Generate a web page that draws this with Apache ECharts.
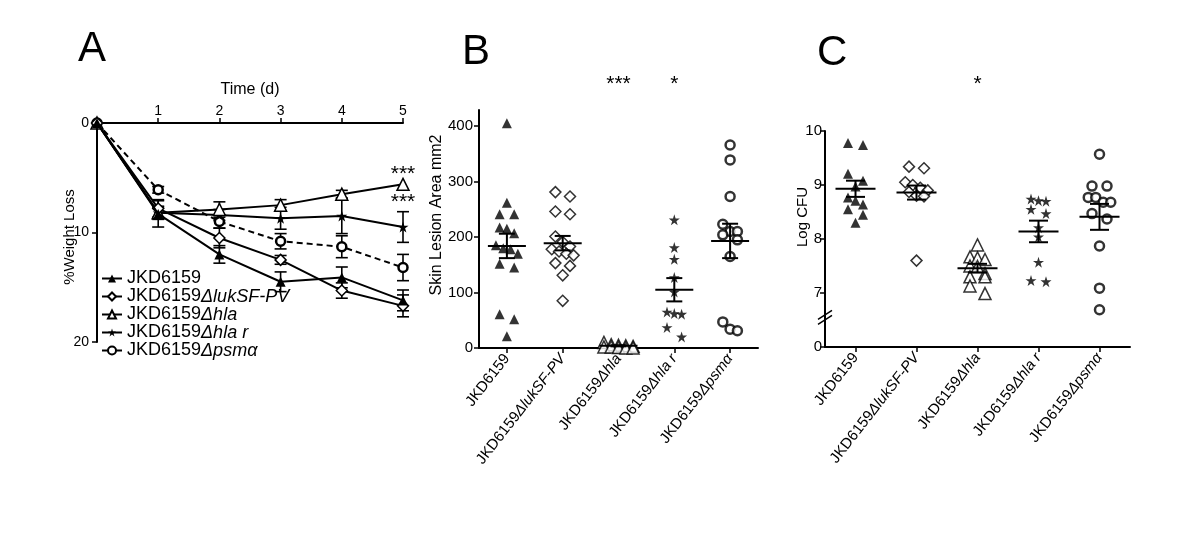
<!DOCTYPE html>
<html><head><meta charset="utf-8">
<script src="https://cdn.jsdelivr.net/npm/echarts@6/dist/echarts.min.js"></script>
<style>html,body{margin:0;padding:0;background:#fff}#c{width:1200px;height:548px}</style>
</head><body><div id="c"></div>
<script>
// ---------------- DATA ----------------
const strainBase = ['JKD6159', 'JKD6159', 'JKD6159', 'JKD6159', 'JKD6159'];
const strainMut  = ['', 'ΔlukSF-PV', 'Δhla', 'Δhla r', 'Δpsmα'];
const strains = strainBase.map((b, i) => b + strainMut[i]);

// Panel A: % weight loss over time (mean, SEM)
const days = [0, 1, 2, 3, 4, 5];
const wlJKD  = [0, 8.3, 12.0, 14.5, 14.1, 16.2];
const wlLuk  = [0, 7.8, 10.5, 12.5, 15.3, 16.7];
const wlHla  = [0, 8.2, 7.9, 7.5, 6.5, 5.6];
const wlHlaR = [0, 8.2, 8.4, 8.7, 8.5, 9.5];
const wlPsm  = [0, 6.1, 9.0, 10.8, 11.3, 13.2];
const seJKD  = [0, 1.2, 0.8, 0.9, 0.95, 0.95];
const seLuk  = [0, 0.8, 0.9, 0.4, 0.7, 1.0];
const seHla  = [0, 0.6, 0.7, 0.5, 0.35, 0];
const seHlaR = [0, 0.5, 0.5, 1.0, 1.6, 1.4];
const sePsm  = [0, 0.3, 0.6, 0.7, 1.0, 1.2];

// Panel B: skin lesion area (mm2)
const lesJKD  = [405, 262, 241, 241, 217, 215, 207, 185, 180, 178, 170, 152, 145, 61, 52, 21];
const lesLuk  = [281, 273, 246, 241, 201, 191, 183, 178, 174, 170, 167, 153, 148, 131, 85];
const lesHla  = [10, 6, 5, 4, 3, 2, 2, 1, 0, 0];
const lesHlaR = [231, 181, 160, 127, 101, 65, 62, 61, 37, 20];
const lesPsm  = [366, 339, 273, 223, 210, 210, 204, 195, 165, 47, 34, 31];
const lesMean = [184, 189, 4, 105, 193];
const lesSem  = [22, 13, 1, 21, 31];
const lesSig  = ['', '', '***', '*', ''];

// Panel C: log CFU
const cfuJKD  = [9.78, 9.74, 9.21, 9.08, 8.97, 8.77, 8.71, 8.64, 8.55, 8.45, 8.30];
const cfuLuk  = [9.34, 9.31, 9.05, 9.00, 8.95, 8.90, 8.87, 8.80, 8.79, 7.60];
const cfuHla  = [7.89, 7.67, 7.65, 7.62, 7.50, 7.49, 7.36, 7.30, 7.30, 7.13, 6.99];
const cfuHlaR = [8.74, 8.71, 8.70, 8.55, 8.47, 8.21, 8.04, 7.57, 7.23, 7.21];
const cfuPsm  = [9.57, 8.98, 8.98, 8.77, 8.77, 8.68, 8.68, 8.47, 8.37, 7.87, 7.09, 6.69];
const cfuMean = [8.93, 8.86, 7.46, 8.14, 8.41];
const cfuSem  = [0.15, 0.13, 0.08, 0.20, 0.24];
const cfuSig  = ['', '', '*', '', ''];

const yTicksA = [0, 10, 20];
const yTicksB = [0, 100, 200, 300, 400];
const yTicksC = [6, 7, 8, 9, 10];   // 6 is shown as "0" (broken axis)

// ---------------- LAYOUT / STYLE ----------------
const FF = 'Liberation Sans, Arial, sans-serif';
const BLK = '#000';
const gA = {left: 97, top: 123, width: 306, height: 219};
const gB = {left: 479, top: 110, width: 279, height: 238};
const gC = {left: 825, top: 131, width: 305, height: 216};
const bMax = 429;
const cMin = 6, cMax = 10;
const STAR = 'path://M50,0 L61.2,34.5 L97.6,34.5 L68.2,55.9 L79.4,90.5 L50,69.1 L20.6,90.5 L31.8,55.9 L2.4,34.5 L38.8,34.5 Z';

// scatter-dot-plot lane assignment: nearby values form a row, spread symmetrically
function swarm(vals, thr) {
  const s = vals.slice().sort((a, b) => b - a);
  const out = [];
  let i = 0;
  while (i < s.length) {
    let j = i + 1;
    while (j < s.length && s[i] - s[j] < thr) j++;
    const n = j - i;
    let lanes;
    if (n === 1) lanes = [0];
    else if (n === 2) lanes = [-1, 1];
    else if (n === 3) lanes = [-1, 0, 1];
    else if (n === 4) lanes = [-1.5, -0.5, 0.5, 1.5];
    else lanes = [-2, -1, 0, 1, 2];
    for (let k = 0; k < n; k++) out.push({v: s[i + k], lane: lanes[k % lanes.length]});
    i = j;
  }
  return out;
}

const laneB = 7.3 / (gB.width / 5), laneC = 7.5 / (gC.width / 5);
const thrB = 10 / (gB.height / bMax), thrC = 8.5 / (gC.height / (cMax - cMin));

function pts(vals, idx, thr, lane) {
  return swarm(vals, thr).map(p => [idx + p.lane * lane, p.v]);
}

const symStyles = [
  {symbol: 'triangle', symbolSize: 10, itemStyle: {color: BLK}},
  {symbol: 'diamond', symbolSize: 11, itemStyle: {color: '#fff', borderColor: BLK, borderWidth: 1.5}},
  {symbol: 'triangle', symbolSize: 12, itemStyle: {color: '#fff', borderColor: BLK, borderWidth: 1.5}},
  {symbol: STAR, symbolSize: 11, itemStyle: {color: BLK}},
  {symbol: 'circle', symbolSize: 9, itemStyle: {color: '#fff', borderColor: BLK, borderWidth: 2.5}}
];

function meanRender(halfW, capHalf) {
  return function (params, api) {
    const x = api.value(0), m = api.value(1), s = api.value(2);
    const pm = api.coord([x, m]), pt = api.coord([x, m + s]), pb = api.coord([x, m - s]);
    const st = {stroke: BLK, lineWidth: 2};
    return {type: 'group', children: [
      {type: 'line', shape: {x1: pm[0] - halfW, y1: pm[1], x2: pm[0] + halfW, y2: pm[1]}, style: st},
      {type: 'line', shape: {x1: pt[0], y1: pt[1], x2: pb[0], y2: pb[1]}, style: st},
      {type: 'line', shape: {x1: pt[0] - capHalf, y1: pt[1], x2: pt[0] + capHalf, y2: pt[1]}, style: st},
      {type: 'line', shape: {x1: pb[0] - capHalf, y1: pb[1], x2: pb[0] + capHalf, y2: pb[1]}, style: st}
    ]};
  };
}
function errRender(params, api) {
  const x = api.value(0), m = api.value(1), s = api.value(2);
  if (!s) return null;
  const pt = api.coord([x, m - s]), pb = api.coord([x, m + s]);
  const st = {stroke: BLK, lineWidth: 1.6};
  return {type: 'group', children: [
    {type: 'line', shape: {x1: pt[0], y1: pt[1], x2: pb[0], y2: pb[1]}, style: st},
    {type: 'line', shape: {x1: pt[0] - 6, y1: pt[1], x2: pt[0] + 6, y2: pt[1]}, style: st},
    {type: 'line', shape: {x1: pb[0] - 6, y1: pb[1], x2: pb[0] + 6, y2: pb[1]}, style: st}
  ]};
}

const catLabel = {
  rotate: 52, fontSize: 15, color: BLK, fontFamily: FF, margin: 8,
  formatter: (v, i) => strainBase[i] + (strainMut[i] ? '{i|' + strainMut[i] + '}' : ''),
  rich: {i: {fontStyle: 'italic', fontSize: 15, color: BLK, fontFamily: FF}}
};
const axLine = {show: true, onZero: false, lineStyle: {color: BLK, width: 2}};
const axTick = {show: true, length: 5, lineStyle: {color: BLK, width: 1.5}};

const wlSeries = [wlJKD, wlLuk, wlHla, wlHlaR, wlPsm];
const seSeries = [seJKD, seLuk, seHla, seHlaR, sePsm];
const lesSeries = [lesJKD, lesLuk, lesHla, lesHlaR, lesPsm];
const cfuSeries = [cfuJKD, cfuLuk, cfuHla, cfuHlaR, cfuPsm];

const series = [];
wlSeries.forEach((vals, k) => {
  series.push(Object.assign({
    type: 'line', name: strains[k], xAxisIndex: 0, yAxisIndex: 0,
    data: days.map((d, i) => [d, vals[i]]),
    lineStyle: {color: BLK, width: 2, type: k === 4 ? [6, 4] : 'solid'},
    z: 10 - k
  }, JSON.parse(JSON.stringify(symStyles[k])), k === 3 ? {symbol: STAR} : {}));
});
const errData = [];
wlSeries.forEach((vals, k) => days.forEach((d, i) => errData.push([d, vals[i], seSeries[k][i]])));
series.push({type: 'custom', xAxisIndex: 0, yAxisIndex: 0, renderItem: errRender, data: errData, z: 2, silent: true});

lesSeries.forEach((vals, k) => {
  series.push(Object.assign({type: 'scatter', xAxisIndex: 2, yAxisIndex: 1, data: pts(vals, k, thrB, laneB), z: 3},
    JSON.parse(JSON.stringify(symStyles[k])), k === 3 ? {symbol: STAR} : {}));
});
series.push({type: 'custom', xAxisIndex: 2, yAxisIndex: 1, renderItem: meanRender(19, 8),
  data: lesMean.map((m, i) => [i, m, lesSem[i]]), z: 4, silent: true});

cfuSeries.forEach((vals, k) => {
  series.push(Object.assign({type: 'scatter', xAxisIndex: 4, yAxisIndex: 2, data: pts(vals, k, thrC, laneC), z: 3},
    JSON.parse(JSON.stringify(symStyles[k])), k === 3 ? {symbol: STAR} : {}));
});
series.push({type: 'custom', xAxisIndex: 4, yAxisIndex: 2, renderItem: meanRender(20, 9.5),
  data: cfuMean.map((m, i) => [i, m, cfuSem[i]]), z: 4, silent: true});

const option = {
  animation: false,
  backgroundColor: '#fff',
  textStyle: {fontFamily: FF, color: BLK},
  grid: [gA, gB, gC],
  legend: {
    orient: 'vertical', left: 101, top: 269.5, padding: 0, itemWidth: 20, itemHeight: 10, itemGap: 0,
    textStyle: {fontSize: 18, color: BLK, fontFamily: FF, lineHeight: 16.8,
      rich: {i: {fontStyle: 'italic', fontSize: 18, color: BLK, fontFamily: FF, lineHeight: 16.8}}},
    formatter: name => name.slice(0, 7) + (name.length > 7 ? '{i|' + name.slice(7) + '}' : ''),
    data: strains.map(n => ({name: n, lineStyle: {type: 'solid', width: 2}}))
  },
  xAxis: [
    {gridIndex: 0, type: 'value', position: 'top', min: 0, max: 5, interval: 1,
      name: 'Time (d)', nameLocation: 'middle', nameGap: 25, nameMoveOverlap: false,
      nameTextStyle: {fontSize: 16, color: BLK, fontFamily: FF},
      axisLine: axLine, axisTick: axTick, splitLine: {show: false},
      axisLabel: {fontSize: 14, color: BLK, fontFamily: FF, margin: 5, formatter: v => v === 0 ? '' : v}},
    {gridIndex: 1, type: 'category', data: strains, axisLine: axLine,
      axisTick: Object.assign({alignWithLabel: true}, axTick), axisLabel: catLabel},
    {gridIndex: 1, type: 'value', min: -0.5, max: 4.5, show: false},
    {gridIndex: 2, type: 'category', data: strains, axisLine: axLine,
      axisTick: Object.assign({alignWithLabel: true}, axTick), axisLabel: catLabel},
    {gridIndex: 2, type: 'value', min: -0.5, max: 4.5, show: false}
  ],
  yAxis: [
    {gridIndex: 0, type: 'value', inverse: true, min: 0, max: 20, interval: 10,
      name: '%Weight Loss', nameLocation: 'middle', nameGap: 20, nameMoveOverlap: false,
      nameTextStyle: {fontSize: 15, color: BLK, fontFamily: FF, padding: [0, 9, 0, 0]},
      axisLine: axLine, axisTick: Object.assign({customValues: yTicksA}, axTick), splitLine: {show: false},
      axisLabel: {customValues: yTicksA, fontSize: 14, color: BLK, fontFamily: FF, margin: 8}},
    {gridIndex: 1, type: 'value', min: 0, max: bMax,
      name: 'Skin Lesion Area mm2', nameLocation: 'middle', nameGap: 34, nameMoveOverlap: false,
      nameTextStyle: {fontSize: 16, color: BLK, fontFamily: FF, padding: [0, 0, 0, 28]},
      axisLine: axLine, axisTick: Object.assign({customValues: yTicksB}, axTick), splitLine: {show: false},
      axisLabel: {customValues: yTicksB, fontSize: 15, color: BLK, fontFamily: FF, margin: 6}},
    {gridIndex: 2, type: 'value', min: cMin, max: cMax, interval: 1,
      name: 'Log CFU', nameLocation: 'middle', nameGap: 15, nameMoveOverlap: false,
      nameTextStyle: {fontSize: 15, color: BLK, fontFamily: FF, padding: [0, 0, 0, 44]},
      axisLine: axLine, axisTick: Object.assign({customValues: yTicksC}, axTick), splitLine: {show: false},
      axisLabel: {customValues: yTicksC, fontSize: 15, color: BLK, fontFamily: FF, margin: 3,
        formatter: v => v === cMin ? '0' : v}}
  ],
  series: series
};

const chart = echarts.init(document.getElementById('c'), null, {renderer: 'canvas'});
chart.setOption(option);

// annotations placed through the axes' own scales
const g = [];
const letter = (t, x, y) => g.push({type: 'text', x: x, y: y, style: {text: t, font: '42px ' + FF, fill: BLK, textVerticalAlign: 'middle'}});
letter('A', 78, 49); letter('B', 462, 52); letter('C', 817, 53);
const star = (t, p, dy) => g.push({type: 'text', x: p[0], y: p[1] + dy,
  style: {text: t, font: '21px ' + FF, fill: BLK, textAlign: 'center', textVerticalAlign: 'middle'}});
star('***', chart.convertToPixel({xAxisIndex: 0, yAxisIndex: 0}, [5, wlHla[5]]), -10);
star('***', chart.convertToPixel({xAxisIndex: 0, yAxisIndex: 0}, [5, wlHlaR[5] - seHlaR[5]]), -9);
lesSig.forEach((s, i) => { if (s) { const p = chart.convertToPixel({xAxisIndex: 2, yAxisIndex: 1}, [i, 0]); star(s, [p[0], gB.top - 26], 0); } });
cfuSig.forEach((s, i) => { if (s) { const p = chart.convertToPixel({xAxisIndex: 4, yAxisIndex: 2}, [i, cMin]); star(s, [p[0], gC.top - 47], 0); } });
// axis break marks on panel C
const bp = chart.convertToPixel({xAxisIndex: 4, yAxisIndex: 2}, [-0.5, 6.55]);
[-2.5, 2.5].forEach(o => g.push({type: 'line', shape: {x1: bp[0] - 7, y1: bp[1] + o + 4.5, x2: bp[0] + 7, y2: bp[1] + o - 4.5},
  style: {stroke: BLK, lineWidth: 1.5}}));
chart.setOption({graphic: g});
</script></body></html>
